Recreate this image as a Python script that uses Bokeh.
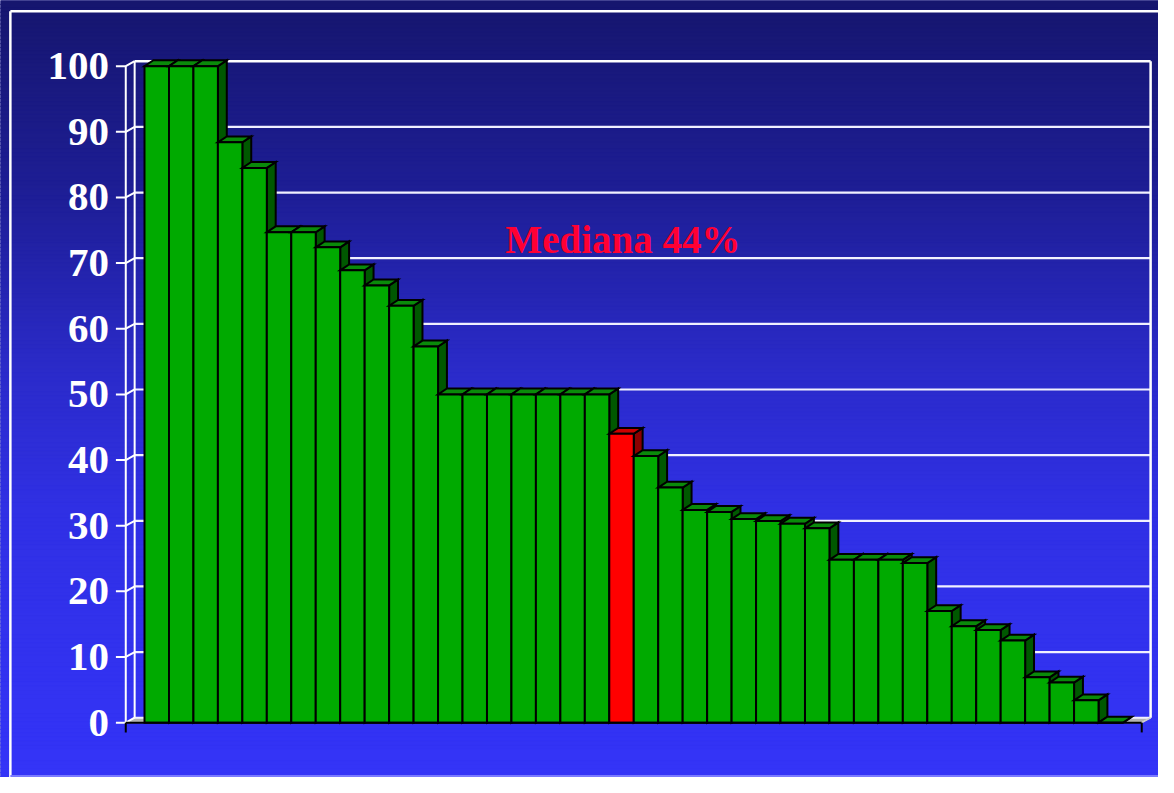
from bokeh.plotting import figure
from bokeh.models import Range1d, ColumnDataSource
from bokeh.core.properties import value
from bokeh.embed import file_html
from bokeh.resources import INLINE

# ---------------- data ----------------
values = [100, 100, 100, 88.4, 84.5, 74.7, 74.7, 72.4, 68.9, 66.6, 63.5, 57.3,
          50, 50, 50, 50, 50, 50, 50, 44, 40.6, 35.8, 32.4, 32.1, 31.0, 30.7,
          30.3, 29.6, 24.8, 24.8, 24.8, 24.3, 17.0, 14.7, 14.1, 12.5, 6.9, 6.1,
          3.4, 0]
median_index = 19
y_ticks = [0, 10, 20, 30, 40, 50, 60, 70, 80, 90, 100]
y_tick_labels = [str(t) for t in y_ticks]
annotation = "Mediana 44%"

# ---------------- geometry (reference pixels -> data) ----------------
W, H = 1158, 777
REF_W, REF_H = 1174, 793
SCALE = (W / REF_W + H / REF_H) / 2
BAR_PX = 24.8
UNIT_PX = 6.7
X0_PX = 146
Y0_PX = 737


def X(px):
    return (px - X0_PX) / BAR_PX


def Y(py):
    return (Y0_PX - py) / UNIT_PX


WALL_DX = 9 / BAR_PX
WALL_DY = 5 / UNIT_PX
BAR_DX = 9 / BAR_PX
BAR_DY = 6 / UNIT_PX

p = figure(width=W, height=H,
           x_range=Range1d(X(0), X(REF_W)),
           y_range=Range1d(Y(REF_H), Y(0)),
           output_backend="svg", toolbar_location=None,
           x_axis_location=None, y_axis_location=None,
           min_border=0)
p.grid.visible = False
p.outline_line_color = None
p.background_fill_color = "#2020a0"
p.border_fill_color = "#2020a0"

# ---------------- background gradient ----------------
stops = [(0, (22, 22, 110)), (200, (30, 30, 150)), (380, (43, 43, 202)),
         (520, (48, 48, 228)), (800, (52, 52, 248))]


def grad(py):
    for (a, ca), (b, cb) in zip(stops[:-1], stops[1:]):
        if a <= py <= b:
            t = (py - a) / (b - a)
            return "#%02x%02x%02x" % tuple(int(round(ca[k] + (cb[k] - ca[k]) * t)) for k in range(3))
    return "#%02x%02x%02x" % stops[-1][1]


bg_top, bg_bot, bg_col = [], [], []
step = 4
for py in range(0, 800, step):
    bg_top.append(Y(py))
    bg_bot.append(Y(py + step))
    bg_col.append(grad(py + step / 2))
p.quad(left=X(-5), right=X(1200), top=bg_top, bottom=bg_bot,
       fill_color=bg_col, line_color=bg_col, line_width=1)

# outer frame
p.line([X(10), X(10)], [Y(11), Y(800)], line_color="white", line_width=2.5)
p.line([X(10), X(1200)], [Y(11), Y(11)], line_color="white", line_width=2.5)
p.line([X(10), X(1200)], [Y(791.5), Y(791.5)], line_color="#7a7aff", line_width=2)

# ---------------- walls & floor ----------------
back_left = X(136)
back_right = X(1166)
front_left = X(127)
front_right = X(1157)

# floor
p.patch([front_left, front_right, back_right, back_left],
        [0, 0, WALL_DY, WALL_DY], fill_color="#b4b4b4", line_color="#d8d8d8", line_width=1)

# gridlines on back wall
for t in y_ticks:
    p.line([back_left, back_right], [t + WALL_DY, t + WALL_DY],
           line_color="white" if t == 100 else "#f0f0ff", line_width=2.5 if t == 100 else 2.2)
# back wall verticals
p.line([back_left, back_left], [WALL_DY, 100 + WALL_DY], line_color="white", line_width=2)
p.line([back_right, back_right], [WALL_DY, 100 + WALL_DY], line_color="white", line_width=2.5)
# front axis
p.line([front_left, front_left], [0, 100], line_color="white", line_width=2)
for t in y_ticks:
    p.line([X(117), front_left, back_left], [t, t, t + WALL_DY], line_color="white", line_width=2)

# ---------------- bars ----------------
xs, ys, fills = [], [], []
for i, v in enumerate(values):
    red = (i == median_index)
    c_front = "#ff0000" if red else "#00aa00"
    c_top = "#cc0000" if red else "#0a8a0a"
    c_side = "#8b0000" if red else "#005800"
    l, r = i, i + 1
    xs.append([r, r + BAR_DX, r + BAR_DX, r])
    ys.append([0, BAR_DY, v + BAR_DY, v])
    fills.append(c_side)
    xs.append([l, r, r + BAR_DX, l + BAR_DX])
    ys.append([v, v, v + BAR_DY, v + BAR_DY])
    fills.append(c_top)
    xs.append([l, r, r, l])
    ys.append([0, 0, v, v])
    fills.append(c_front)

src = ColumnDataSource(dict(xs=xs, ys=ys, fill=fills))
p.patches("xs", "ys", source=src, fill_color="fill", line_color="black",
          line_width=2, line_join="miter")

# floor front edge and ticks
p.line([front_left, front_right], [0, 0], line_color="black", line_width=2)
p.line([front_right, back_right], [0, WALL_DY], line_color="#d0d0d0", line_width=1.5)
for xx in (front_left, front_right):
    p.line([xx, xx], [0, Y(747)], line_color="black", line_width=2)

# ---------------- texts ----------------
p.text(x=[X(110)] * len(y_ticks), y=y_ticks, text=y_tick_labels,
       text_align="right", text_baseline="middle",
       text_font=value("Liberation Serif"), text_font_style="bold",
       text_font_size="%dpx" % round(42 * SCALE), text_color="white")

p.text(x=[X(631)], y=[Y(244)], text=[annotation],
       text_align="center", text_baseline="alphabetic",
       text_font=value("Liberation Serif"), text_font_style="bold",
       text_font_size="%dpx" % round(40 * SCALE), text_color="#ff0033")

open("out.html", "w").write(file_html(p, INLINE))
